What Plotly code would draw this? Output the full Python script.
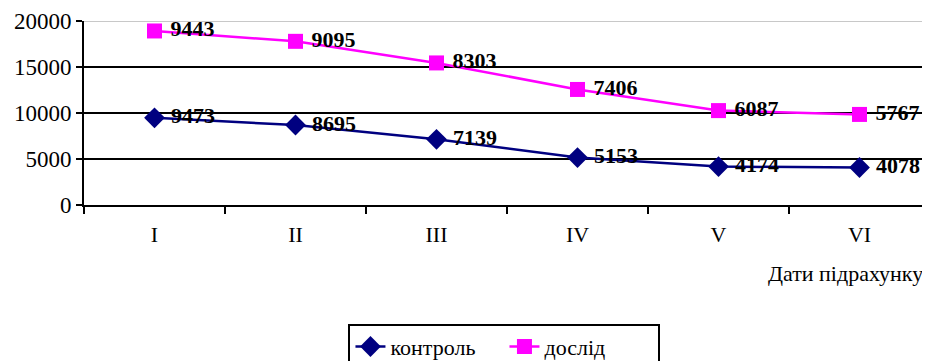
import plotly.graph_objects as go

categories = ["I", "II", "III", "IV", "V", "VI"]
control = [9473, 8695, 7139, 5153, 4174, 4078]
experiment = [9443, 9095, 8303, 7406, 6087, 5767]
y_ticks = [0, 5000, 10000, 15000, 20000]
series_names = ["контроль", "дослід"]
x_title = "Дати підрахунку"

FONT = "'Liberation Serif', 'Times New Roman', 'DejaVu Serif', serif"

fig = go.Figure()
fig.add_trace(go.Scatter(
    x=categories, y=control, name=series_names[0], stackgroup="s", fill="none",
    mode="lines+markers+text", text=[str(v) for v in control],
    texttemplate="\u00a0%{text}",
    textposition="middle right", cliponaxis=False,
    textfont=dict(family=FONT, size=22, color="black", weight="bold"),
    line=dict(color="#000080", width=2.5),
    marker=dict(symbol="diamond", size=16, color="#000080"),
))
fig.add_trace(go.Scatter(
    x=categories, y=experiment, name=series_names[1], stackgroup="s", fill="none",
    mode="lines+markers+text", text=[str(v) for v in experiment],
    texttemplate="\u00a0%{text}",
    textposition="middle right", cliponaxis=False,
    textfont=dict(family=FONT, size=22, color="black", weight="bold"),
    line=dict(color="#FF00FF", width=2.5),
    marker=dict(symbol="square", size=15, color="#FF00FF"),
))

shapes = []
for t in y_ticks[1:]:
    shapes.append(dict(type="line", xref="paper", x0=0, x1=1, yref="y", y0=t, y1=t,
                       line=dict(color="#C8C8C8" if t == y_ticks[-1] else "black",
                                 width=2), layer="below"))

fig.update_layout(
    width=922, height=353,
    margin=dict(l=76, r=0, t=13, b=156, autoexpand=False),
    paper_bgcolor="white", plot_bgcolor="white",
    font=dict(family=FONT, size=20, color="black"),
    showlegend=True,
    legend=dict(orientation="h", x=0.497, xanchor="center", y=-0.645, yanchor="top",
                bordercolor="black", borderwidth=2, font=dict(family=FONT, size=22),
                entrywidth=109, tracegroupgap=0),
    shapes=shapes,
    annotations=[dict(text=x_title, xref="paper", x=0.994, xanchor="right",
                      yref="paper", y=-0.37, yanchor="middle", showarrow=False,
                      font=dict(family=FONT, size=22))],
    xaxis=dict(type="category", range=[-0.5, 5.5], tickson="boundaries",
               ticks="outside", ticklen=7, automargin=False,
               tickwidth=2, tickcolor="black", showline=True, linecolor="black",
               linewidth=2, showgrid=False, ticklabelstandoff=9,
               tickfont=dict(family=FONT, size=22)),
    yaxis=dict(range=[0, 20000], tickvals=y_ticks, ticktext=[str(t) for t in y_ticks],
               ticks="outside", ticklen=6, automargin=False,
               tickwidth=2, tickcolor="black", showline=True, linecolor="black",
               linewidth=2, showgrid=False, zeroline=False,
               tickfont=dict(family=FONT, size=23)),
)

fig.write_html("out.html")
